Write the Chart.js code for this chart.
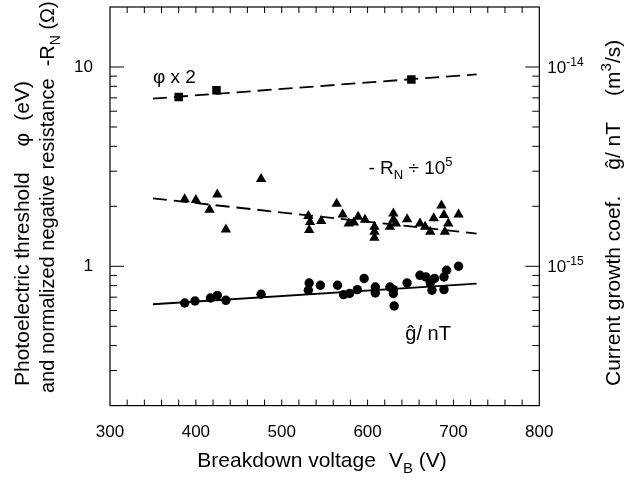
<!DOCTYPE html>
<html><head><meta charset="utf-8">
<script src="https://cdn.jsdelivr.net/npm/chart.js@4/dist/chart.umd.min.js"></script>
<style>html,body{margin:0;padding:0;background:#fff}</style>
</head><body>
<canvas id="c" width="631" height="480"></canvas>
<script>
// ---- data ----
const phiV = [380, 424, 651];
const phiVal = [7.07, 7.64, 8.65];          // φ x 2 (eV)
const phiFitV = [350, 727];
const phiFitVal = [6.94, 9.19];

const rnV = [387, 400, 416, 425, 435, 476, 531, 533, 532, 546, 564, 571, 578, 584, 589, 597, 608, 608, 608, 626, 630, 630, 633, 646, 661, 667, 673, 677, 686, 689, 690, 706, 694];
const rnVal = [2.17, 2.15, 1.92, 2.29, 1.53, 2.74, 1.79, 1.67, 1.52, 1.69, 2.06, 1.82, 1.64, 1.66, 1.77, 1.71, 1.58, 1.49, 1.39, 1.58, 1.84, 1.71, 1.64, 1.72, 1.64, 1.58, 1.49, 1.74, 2.02, 1.81, 1.49, 1.82, 1.64]; // -R_N / 1e5
const rnFitV = [350, 727];
const rnFitVal = [2.19, 1.46];

const gV = [387, 399, 417, 425, 435, 476, 532, 531, 545, 565, 572, 579, 588, 596, 609, 609, 626, 630, 630, 631, 646, 661, 668, 673, 675, 678, 689, 689, 692, 706];
const gVal1e15 = [0.654, 0.670, 0.693, 0.715, 0.675, 0.724, 0.824, 0.758, 0.803, 0.803, 0.721, 0.730, 0.764, 0.868, 0.787, 0.735, 0.787, 0.764, 0.730, 0.632, 0.824, 0.901, 0.884, 0.824, 0.758, 0.868, 0.884, 0.764, 0.955, 1.0]; // ĝ/nT in 1e-15 m3/s
const gFitV = [350, 727];
const gFitVal1e15 = [0.645, 0.819];

const xTickLabels = [300, 400, 500, 600, 700, 800];
const leftTickLabels = [1, 10];
const rightTickLabels = [1e-15, 1e-14];
const rightTickExp = ['-15', '-14'];

const FONT = "'Liberation Sans', Arial, Helvetica, sans-serif";
const pts = (xs, ys, k) => xs.map((v, i) => ({x: v, y: ys[i] * (k || 1)}));

function fontFor(p, size) {
  return ((p.sub || p.sup) ? Math.round(size * 0.7) : size) + 'px ' + FONT;
}
function drawRich(ctx, parts, x, y, size, align, rotate) {
  ctx.save();
  ctx.translate(x, y);
  if (rotate) ctx.rotate(-Math.PI / 2);
  ctx.textBaseline = 'alphabetic';
  ctx.textAlign = 'left';
  ctx.fillStyle = '#000';
  const w = p => (p.gap !== undefined ? p.gap : (ctx.font = fontFor(p, size), ctx.measureText(p.t).width));
  let total = 0;
  for (const p of parts) total += w(p);
  let cx = align === 'center' ? -total / 2 : 0;
  for (const p of parts) {
    if (p.gap === undefined) {
      ctx.font = fontFor(p, size);
      const dy = p.sub ? size * 0.3 : (p.sup ? -size * 0.42 : 0);
      ctx.fillText(p.t, cx, dy);
    }
    cx += w(p);
  }
  ctx.restore();
}

const decor = {
  id: 'decor',
  afterDraw(chart) {
    const ctx = chart.ctx, ca = chart.chartArea;
    const xs = chart.scales.x, ys = chart.scales.y, y2 = chart.scales.y2;
    ctx.save();
    ctx.strokeStyle = '#000';
    ctx.lineWidth = 1.2;
    ctx.strokeRect(ca.left, ca.top, ca.right - ca.left, ca.bottom - ca.top);
    ctx.lineWidth = 1;
    ctx.beginPath();
    for (let v = xs.min + 20; v < xs.max; v += 20) {
      const px = xs.getPixelForValue(v);
      ctx.moveTo(px, ca.bottom); ctx.lineTo(px, ca.bottom - 6);
      ctx.moveTo(px, ca.top); ctx.lineTo(px, ca.top + 6);
    }
    for (const dec of [0.1, 1, 10]) {
      for (let m = 1; m <= 9; m++) {
        const v = dec * m;
        if (v <= ys.min * 1.0001 || v >= ys.max * 0.9999) continue;
        const py = ys.getPixelForValue(v);
        const len = m === 1 ? 14 : 7;
        ctx.moveTo(ca.left, py); ctx.lineTo(ca.left + len, py);
        const py2 = y2.getPixelForValue(v * 1e-15);
        ctx.moveTo(ca.right, py2); ctx.lineTo(ca.right - len, py2);
      }
    }
    ctx.stroke();
    ctx.restore();

    rightTickLabels.forEach((v, i) => {
      const py = y2.getPixelForValue(v);
      drawRich(ctx, [{t: '10'}, {t: rightTickExp[i], sup: true}], ca.right + 8, py + 6, 17, 'left', false);
    });

    // axis titles
    drawRich(ctx, [{t: 'Breakdown voltage'}, {gap: 13}, {t: 'V'}, {t: 'B', sub: true}, {t: ' (V)'}], 322, 467, 21, 'center', false);
    drawRich(ctx, [{t: 'Photoelectric threshold'}, {gap: 26}, {t: 'φ'}, {gap: 12}, {t: '(eV)'}], 29, 386, 21, 'left', true);
    drawRich(ctx, [{t: 'and normalized negative resistance'}, {gap: 12}, {t: '-R'}, {t: 'N', sub: true}, {t: ' (Ω)'}], 54, 393, 20, 'left', true);
    drawRich(ctx, [{t: 'Current growth coef.'}, {gap: 26}, {t: 'ĝ/ nT'}, {gap: 26}, {t: '(m'}, {t: '3', sup: true}, {t: '/s)'}], 620, 386, 21, 'left', true);

    // series annotations, anchored in data coordinates
    drawRich(ctx, [{t: 'φ x 2'}], xs.getPixelForValue(350), ys.getPixelForValue(8.28), 19, 'left', false);
    drawRich(ctx, [{t: '- R'}, {t: 'N', sub: true}, {t: ' ÷ 10'}, {t: '5', sup: true}], xs.getPixelForValue(601), ys.getPixelForValue(2.92), 19, 'left', false);
    drawRich(ctx, [{t: 'ĝ/ nT'}], xs.getPixelForValue(644), ys.getPixelForValue(0.425), 20, 'left', false);
  }
};

new Chart(document.getElementById('c'), {
  type: 'scatter',
  data: {
    datasets: [
      {label: 'phi', data: pts(phiV, phiVal), yAxisID: 'y', pointStyle: 'rect', pointRadius: 6, backgroundColor: '#000', borderColor: '#000', borderWidth: 0},
      {label: 'phiFit', type: 'line', data: pts(phiFitV, phiFitVal), yAxisID: 'y', pointRadius: 0, borderColor: '#000', borderWidth: 1.8, borderDash: [14, 7], fill: false},
      {label: 'rn', data: pts(rnV, rnVal), yAxisID: 'y', pointStyle: 'triangle', pointRadius: 6, backgroundColor: '#000', borderColor: '#000', borderWidth: 0},
      {label: 'rnFit', type: 'line', data: pts(rnFitV, rnFitVal), yAxisID: 'y', pointRadius: 0, borderColor: '#000', borderWidth: 1.8, borderDash: [14, 7], fill: false},
      {label: 'g', data: pts(gV, gVal1e15, 1e-15), yAxisID: 'y2', pointStyle: 'circle', pointRadius: 4.7, backgroundColor: '#000', borderColor: '#000', borderWidth: 0},
      {label: 'gFit', type: 'line', data: pts(gFitV, gFitVal1e15, 1e-15), yAxisID: 'y2', pointRadius: 0, borderColor: '#000', borderWidth: 1.8, fill: false}
    ]
  },
  options: {
    responsive: false,
    animation: false,
    devicePixelRatio: 1,
    layout: {padding: {top: 7, left: 0, right: 0, bottom: 0}},
    plugins: {legend: {display: false}, tooltip: {enabled: false}},
    scales: {
      x: {
        type: 'linear', position: 'bottom', min: 300, max: 800,
        afterBuildTicks: s => { s.ticks = xTickLabels.map(v => ({value: v})); },
        ticks: {font: {family: FONT, size: 17}, color: '#000', padding: 9, maxRotation: 0, autoSkip: false},
        grid: {display: false}, border: {display: false},
        afterFit: s => { s.height = 480 - 405.6; s.paddingLeft = 0; s.paddingRight = 0; }
      },
      y: {
        type: 'logarithmic', position: 'left', min: 0.2, max: 20,
        afterBuildTicks: s => { s.ticks = leftTickLabels.map(v => ({value: v})); },
        ticks: {font: {family: FONT, size: 17}, color: '#000', padding: 9, callback: v => String(v), autoSkip: false},
        grid: {display: false}, border: {display: false},
        afterFit: s => { s.width = 110; s.paddingTop = 0; s.paddingBottom = 0; }
      },
      y2: {
        type: 'logarithmic', position: 'right', min: 2e-16, max: 2e-14,
        ticks: {display: false},
        grid: {display: false}, border: {display: false},
        afterFit: s => { s.width = 631 - 539.3; s.paddingTop = 0; s.paddingBottom = 0; }
      }
    }
  },
  plugins: [decor]
});
</script>
</body></html>
